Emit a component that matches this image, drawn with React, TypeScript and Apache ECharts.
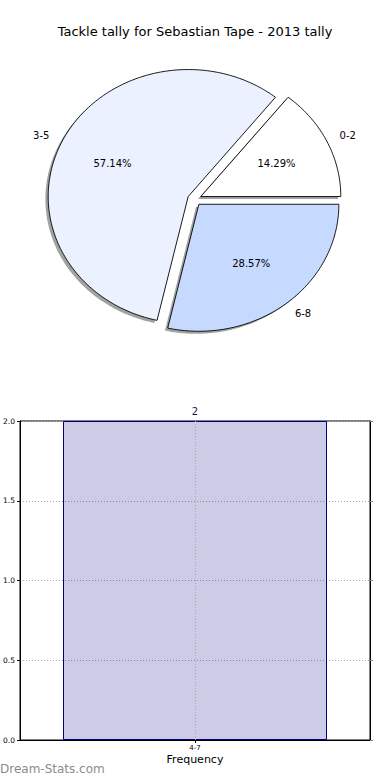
import React, { useEffect, useRef } from 'react';
import * as echarts from 'echarts';

// ---- data ----
const pieLabels = ['0-2', '3-5', '6-8'];
const pieValues = [1, 4, 2];
const barCategories = ['4-7'];
const barValues = [2];

// ---- styles / geometry ----
const sliceColors = ['#ffffff', '#ebf1ff', '#c6d9ff'];
const FONT = '"DejaVu Sans", sans-serif';
const CX = 194.5;
const CY = 199.3;
const RX = 140;
const RY = 127;
const EXPLODE = 0.05;

const total = pieValues.reduce((a, b) => a + b, 0);

function sliceGeom(i: number, v: number) {
  const before = pieValues.slice(0, i).reduce((a, b) => a + b, 0);
  const a0 = (before / total) * Math.PI * 2;
  const a1 = ((before + v) / total) * Math.PI * 2;
  const mid = (a0 + a1) / 2;
  const ox = CX + EXPLODE * RX * Math.cos(mid);
  const oy = CY - EXPLODE * RY * Math.sin(mid);
  return { a0, a1, mid, ox, oy };
}

function slicePoints(ox: number, oy: number, a0: number, a1: number) {
  const pts: number[][] = [[ox, oy]];
  const n = Math.max(8, Math.ceil(((a1 - a0) * 180) / Math.PI));
  for (let k = 0; k <= n; k++) {
    const a = a0 + ((a1 - a0) * k) / n;
    pts.push([ox + RX * Math.cos(a), oy - RY * Math.sin(a)]);
  }
  return pts;
}

export default function App() {
  const ref = useRef<HTMLDivElement>(null);
  useEffect(() => {
    const chart = echarts.init(ref.current!, null, { renderer: 'svg' });
    const pieData = pieValues.map((v, i) => ({ value: [v], name: pieLabels[i] }));
    const option: any = {
      animation: false,
      backgroundColor: '#ffffff',
      title: {
        text: 'Tackle tally for Sebastian Tape - 2013 tally',
        left: 'center',
        top: 20,
        textStyle: { fontSize: 13, fontWeight: 'normal', color: '#000', fontFamily: FONT },
      },
      graphic: [
        {
          type: 'text',
          left: 0,
          top: 763,
          style: { text: 'Dream-Stats.com', fill: '#8c8c8c', fontSize: 12, fontFamily: FONT },
        },
      ],
      grid: {
        left: 20,
        top: 421,
        width: 350,
        height: 319,
        show: true,
        borderColor: '#000',
        borderWidth: 1,
        backgroundColor: 'transparent',
      },
      xAxis: {
        type: 'category',
        data: barCategories,
        axisLine: { show: true, lineStyle: { color: '#000', width: 1 } },
        axisTick: { show: true, alignWithLabel: true, length: 3, lineStyle: { color: '#000' } },
        axisLabel: { fontSize: 7, margin: 4, color: '#000', fontFamily: FONT },
        splitLine: { show: false },
        name: 'Frequency',
        nameLocation: 'middle',
        nameGap: 14,
        nameTextStyle: { fontSize: 11, color: '#000', fontFamily: FONT },
      },
      yAxis: [
        {
          type: 'value',
          min: 0,
          max: 2,
          interval: 0.5,
          axisLine: { show: true, lineStyle: { color: '#000', width: 1 } },
          axisTick: { show: true, length: 3, lineStyle: { color: '#000' } },
          axisLabel: {
            formatter: (v: number) => v.toFixed(1),
            fontSize: 7.5,
            margin: 5,
            color: '#000',
            fontFamily: FONT,
          },
          splitLine: { show: true, lineStyle: { type: [1, 2], color: '#a8a8a8', width: 1 } },
        },
        {
          type: 'value',
          position: 'right',
          min: 0,
          max: 2,
          interval: 0.5,
          axisLine: { show: true, lineStyle: { color: '#000', width: 1 } },
          axisTick: { show: true, length: 3, lineStyle: { color: '#888' } },
          axisLabel: { show: false },
          splitLine: { show: false },
        },
      ],
      series: [
        {
          type: 'custom',
          coordinateSystem: 'none',
          z: 1,
          silent: true,
          data: pieData,
          renderItem: (params: any, api: any) => {
            const i = params.dataIndex;
            const v = api.value(0);
            const g = sliceGeom(i, v);
            const pts = slicePoints(g.ox - 0.02 * RX, g.oy + 0.02 * RY, g.a0, g.a1);
            return {
              type: 'polygon',
              shape: { points: pts },
              style: { fill: 'rgba(70,70,70,0.5)', stroke: 'none' },
            };
          },
        },
        {
          type: 'custom',
          coordinateSystem: 'none',
          z: 2,
          data: pieData,
          renderItem: (params: any, api: any) => {
            const i = params.dataIndex;
            const v = api.value(0);
            const g = sliceGeom(i, v);
            const pts = slicePoints(g.ox, g.oy, g.a0, g.a1);
            const c = Math.cos(g.mid);
            const s = Math.sin(g.mid);
            const lx = g.ox + 1.1 * RX * c;
            const ly = g.oy - 1.1 * RY * s;
            const px = g.ox + 0.6 * RX * c;
            const py = g.oy - 0.6 * RY * s;
            return {
              type: 'group',
              children: [
                {
                  type: 'polygon',
                  shape: { points: pts },
                  style: { fill: sliceColors[i], stroke: '#000', lineWidth: 0.9 },
                },
                {
                  type: 'text',
                  style: {
                    text: pieLabels[i],
                    x: lx,
                    y: ly,
                    align: c >= 0 ? 'left' : 'right',
                    verticalAlign: 'middle',
                    fill: '#000',
                    fontSize: 10,
                    fontFamily: FONT,
                  },
                },
                {
                  type: 'text',
                  style: {
                    text: ((v / total) * 100).toFixed(2) + '%',
                    x: px,
                    y: py,
                    align: 'center',
                    verticalAlign: 'middle',
                    fill: '#000',
                    fontSize: 10,
                    fontFamily: FONT,
                  },
                },
              ],
            };
          },
        },
        {
          type: 'bar',
          data: barValues,
          barWidth: 264,
          z: 2,
          itemStyle: { color: 'rgba(0,0,128,0.2)', borderColor: '#000080', borderWidth: 1 },
          label: {
            show: true,
            position: 'top',
            distance: 5,
            fontSize: 10,
            color: '#1a1a50',
            fontFamily: FONT,
          },
          markLine: {
            silent: true,
            symbol: 'none',
            label: { show: false },
            lineStyle: { type: [1, 2], color: '#a8a8a8', width: 1 },
            data: [{ xAxis: barCategories[0] }],
          },
        },
      ],
    };
    chart.setOption(option);
    return () => chart.dispose();
  }, []);
  return (
    <div
      ref={ref}
      style={{ position: 'absolute', left: 0, top: 0, width: 390, height: 780 }}
    />
  );
}
